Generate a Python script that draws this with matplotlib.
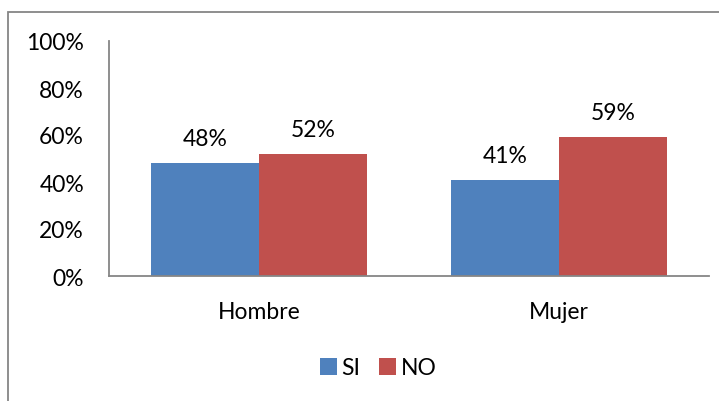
import matplotlib
matplotlib.use("Agg")
import matplotlib.pyplot as plt
from matplotlib.patches import Rectangle
import numpy as np

categories = ["Hombre", "Mujer"]
series_names = ["SI", "NO"]
si_values = [48, 41]
no_values = [52, 59]
y_ticks = [0, 20, 40, 60, 80, 100]
y_tick_labels = ["0%", "20%", "40%", "60%", "80%", "100%"]

colors = ["#4F81BD", "#C0504D"]
plt.rcParams['font.family'] = ['Lato', 'DejaVu Sans']
FS = 16.5

W, H = 719, 402
fig = plt.figure(figsize=(W / 100, H / 100), dpi=100)

# outer chart border (extends beyond right/bottom of image)
fig.patches.append(Rectangle((8 / W, -0.1), 1.2, 1 - 13 / H + 0.1, transform=fig.transFigure,
                             fill=False, edgecolor="#868686", linewidth=1.3))

ax = fig.add_axes([109 / W, (H - 277) / H, 600 / W, 235 / H])
x = np.arange(len(categories))
w = 0.36
b1 = ax.bar(x - w / 2, si_values, w, color=colors[0], label=series_names[0])
b2 = ax.bar(x + w / 2, no_values, w, color=colors[1], label=series_names[1])

for bars, vals in ((b1, si_values), (b2, no_values)):
    for rect, v in zip(bars, vals):
        ax.annotate(f"{v}%", (rect.get_x() + rect.get_width() / 2, v),
                    xytext=(0, 10), textcoords="offset points",
                    ha="center", va="bottom", fontsize=FS, color="black")

ax.set_xlim(-0.5, 1.5)
ax.set_ylim(0, 100)
ax.set_yticks(y_ticks)
ax.set_yticklabels(y_tick_labels)
ax.set_xticks(x)
ax.set_xticklabels(categories)
ax.tick_params(axis="y", length=0, pad=18, labelsize=FS)
ax.tick_params(axis="x", length=0, pad=18, labelsize=FS)
for s in ["top", "right"]:
    ax.spines[s].set_visible(False)
for s in ["left", "bottom"]:
    ax.spines[s].set_color("#868686")
    ax.spines[s].set_linewidth(1.3)

leg = fig.legend(handles=[b1, b2], labels=series_names, loc="center",
                 bbox_to_anchor=(378 / W, (H - 369) / H), ncol=2, frameon=False,
                 fontsize=FS, handlelength=0.75, handleheight=0.75,
                 handletextpad=0.2, columnspacing=0.8)

fig.savefig("out.png", dpi=100)
